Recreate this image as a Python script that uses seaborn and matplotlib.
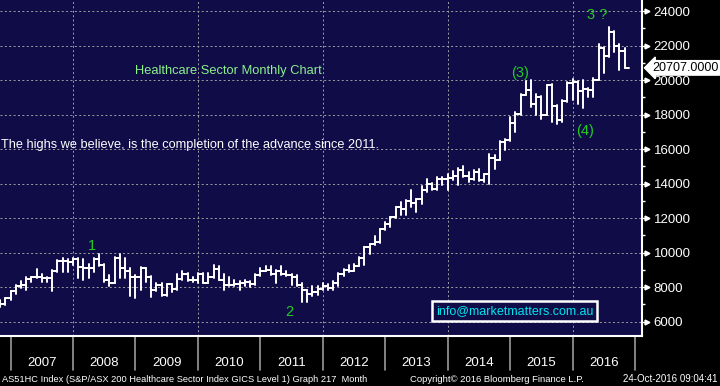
import matplotlib
matplotlib.use("Agg")
import matplotlib.pyplot as plt
import matplotlib.transforms as mtransforms
from matplotlib.ticker import MultipleLocator
import seaborn as sns
import pandas as pd

# monthly OHLC, Oct 2006 .. Oct 2016 (bars drawn at month end)
first_month_end = "2006-10-31"

opens = [7100, 7030, 7370, 7750, 8040, 8100, 8460, 8570, 8610, 8510,
         8510, 8930, 9500, 9500, 9470, 9620, 9140, 9090, 9090, 9620,
         9310, 8420, 8270, 9710, 9090, 8950, 8570, 8570, 9090, 8610,
         7850, 8130, 7520, 8170, 7900, 8460, 8760, 8420, 8420, 8760,
         8270, 8570, 9040, 8430, 8100, 8100, 8180, 8240, 8300, 8180,
         8680, 8950, 9000, 8750, 8950, 8750, 8720, 8580, 8100, 7820,
         7600, 7720, 7900, 8040, 7980, 8270, 8770, 9000, 8960, 9230,
         9670, 10310, 10480, 10630, 11350, 11650, 12040, 12620, 12520, 12980,
         12900, 13100, 13650, 14000, 13710, 14290, 14250, 14350, 14420, 14810,
         14420, 14290, 14670, 14190, 14580, 15500, 15380, 16400, 16540, 17500,
         18040, 19150, 19400, 18630, 19020, 18000, 19690, 18480, 17670, 18790,
         19830, 19880, 19370, 19500, 19400, 20020, 21870, 21380, 22810, 22000, 21710]

highs = [7276, 7370, 7750, 8130, 8360, 8610, 8610, 9050, 8740, 8610,
         8990, 9560, 9700, 9660, 9700, 9700, 9660, 9370, 9700, 9940,
         9370, 8700, 9750, 9940, 9710, 9090, 8700, 9180, 9120, 8650,
         8230, 8230, 8200, 8200, 8740, 8930, 8800, 8610, 8800, 8800,
         8800, 9290, 9230, 8750, 8580, 8430, 8330, 8430, 8330, 8770,
         9100, 9230, 9200, 9000, 9230, 8950, 8760, 8720, 8240, 7850,
         8050, 8080, 8230, 8190, 8330, 8810, 9040, 9290, 9330, 9730,
         10350, 10500, 10960, 11380, 11790, 12080, 12650, 12940, 13040, 13650,
         13120, 13850, 14290, 14050, 14380, 14380, 14580, 14710, 14920, 15000,
         14670, 14770, 14870, 14580, 15690, 15630, 16450, 16600, 17850, 18130,
         19190, 19920, 19980, 19210, 19100, 19720, 19750, 18540, 18830, 19880,
         20080, 19920, 19980, 19550, 20120, 22100, 21900, 23060, 22870, 22100, 21870]

lows = [6838, 6990, 7240, 7600, 7940, 7850, 8320, 8510, 8290, 8290,
        7790, 8900, 8900, 8900, 9280, 8550, 8420, 8550, 8860, 9240,
        8320, 8040, 8230, 8510, 8510, 7500, 7370, 7850, 8320, 7410,
        7750, 7470, 7470, 7710, 7850, 8420, 8360, 8320, 8230, 8230,
        8230, 8520, 8390, 7850, 8050, 8050, 7850, 8050, 7990, 8150,
        8620, 8910, 8720, 8240, 8720, 8620, 8100, 8050, 7150, 7150,
        7470, 7560, 7810, 7850, 7810, 8080, 8620, 8900, 8940, 9200,
        9290, 9920, 10450, 10540, 11300, 11500, 12000, 12170, 12170, 12650,
        12370, 12810, 13520, 13620, 13650, 13900, 13620, 14190, 13900, 14380,
        14100, 14190, 14150, 14100, 14000, 14870, 15350, 15920, 16480, 16980,
        17950, 19120, 18440, 17960, 17770, 17950, 17580, 17480, 17580, 18750,
        18830, 18630, 18400, 19020, 19020, 19980, 20420, 21330, 21620, 20560, 20700]

closes = [7030, 7370, 7750, 8040, 8100, 8460, 8570, 8610, 8510, 8510,
          8930, 9500, 9500, 9470, 9620, 9140, 9090, 9090, 9620, 9310,
          8420, 8270, 9710, 9090, 8950, 8570, 8570, 9090, 8610, 7850,
          8130, 7520, 8170, 7900, 8460, 8760, 8420, 8420, 8760, 8270,
          8570, 9040, 8430, 8100, 8100, 8180, 8240, 8300, 8180, 8680,
          8950, 9000, 8750, 8950, 8750, 8720, 8580, 8100, 7820, 7600,
          7720, 7900, 8040, 7980, 8270, 8770, 9000, 8960, 9230, 9670,
          10310, 10480, 10630, 11350, 11650, 12040, 12620, 12520, 12980, 12900,
          13100, 13650, 14000, 13710, 14290, 14250, 14350, 14420, 14810, 14420,
          14290, 14670, 14190, 14580, 15500, 15380, 16400, 16540, 17500, 18040,
          19150, 19400, 18630, 19020, 18000, 19690, 18480, 17670, 18790, 19830,
          19880, 19370, 19500, 19400, 20020, 21870, 21380, 22810, 22000, 21710, 20707]

years = list(range(2007, 2017))
grid_years = [2008, 2010, 2012, 2014, 2016]
price_ticks = list(range(6000, 24001, 2000))
last_price = 20707.0

NAVY = "#0f0c48"
GREEN = "#22cc22"
GRID = "#a0a0a0"

sns.set_theme(style="dark", rc={"axes.facecolor": NAVY, "figure.facecolor": "black"})
plt.rcParams["font.family"] = ["Liberation Sans", "DejaVu Sans"]

dates = pd.date_range(first_month_end, periods=len(closes), freq="ME")
df = pd.DataFrame({"date": dates, "open": opens, "high": highs,
                   "low": lows, "close": closes})
df["x"] = df["date"].dt.year + df["date"].dt.month / 12
df["bar"] = range(len(df))

# long-form segments: high-low stem, open tick (left), close tick (right)
w = 0.8 / 12
hl = pd.concat([df[["bar", "x", "low"]].rename(columns={"low": "v"}),
                df[["bar", "x", "high"]].rename(columns={"high": "v"})])
op = pd.concat([df[["bar", "x", "open"]].rename(columns={"open": "v"}),
                df[["bar", "x", "open"]].rename(columns={"open": "v"}).assign(x=df["x"] - w)])
cl = pd.concat([df[["bar", "x", "close"]].rename(columns={"close": "v"}),
                df[["bar", "x", "close"]].rename(columns={"close": "v"}).assign(x=df["x"] + w)])

fig = plt.figure(figsize=(7.2, 3.86), dpi=100, facecolor="black")
ax = fig.add_axes([0, 50 / 386, 642 / 720, 336 / 386])
ax.set_facecolor(NAVY)

# grid first so the bars sit on top
for gy in grid_years:
    ax.axvline(gy, color=GRID, lw=0.7, ls=(0, (2, 2.5)), zorder=0)
for p in price_ticks:
    ax.axhline(p, color=GRID, lw=0.7, ls=(0, (2, 2.5)), zorder=0)

for part in (hl, op, cl):
    sns.lineplot(data=part, x="x", y="v", units="bar", estimator=None, sort=False,
                 color="white", lw=1.4, ax=ax, legend=False)

ax.set_xlim(2006.83, 2017.112)
ax.set_ylim(5170, 24640)
ax.set_xlabel("")
ax.set_ylabel("")
ax.grid(False)

# right hand price axis
ax.yaxis.tick_right()
ax.set_yticks(price_ticks)
ax.yaxis.set_minor_locator(MultipleLocator(1000))
ax.tick_params(axis="y", which="major", length=4.5, width=1, color="white",
               labelcolor="white", labelsize=9.5, pad=4, right=True)
ax.tick_params(axis="y", which="minor", length=2.5, width=1, color="white", right=True)
ax.set_xticks([])
ytrans = mtransforms.blended_transform_factory(ax.transAxes, ax.transData)
ax.plot([1 + 5 / 642] * len(price_ticks), price_ticks, ls="none", marker=">",
        ms=3.5, color="white", transform=ytrans, clip_on=False)

for side in ("left", "top"):
    ax.spines[side].set_visible(False)
for side in ("right", "bottom"):
    ax.spines[side].set_visible(True)
    ax.spines[side].set_color("white")
    ax.spines[side].set_linewidth(1.5)

# year separators and labels under the plot
xtrans = mtransforms.blended_transform_factory(ax.transData, ax.transAxes)
for yr in years + [2017]:
    ax.plot([yr, yr], [0, -0.101], color="#9a9a9a", lw=1.2,
            transform=xtrans, clip_on=False)
for yr in years:
    ax.text(yr + 0.5, -0.08, str(yr), transform=xtrans, ha="center", va="center",
            color="white", fontsize=9.5)

# last price tag
ax.text(1 + 10 / 642, last_price, f"{last_price:.4f}", transform=ytrans,
        ha="left", va="center", color="black", fontsize=9,
        bbox=dict(boxstyle="larrow,pad=0.1", fc="white", ec="white"))

# annotations
ax.text(0.2103, 0.789, "Healthcare Sector Monthly Chart", transform=ax.transAxes,
        ha="left", va="center", color="#8cf08c", fontsize=9.3)
ax.text(0.002, 0.568, "The highs we believe, is the completion of the advance since 2011.",
        transform=ax.transAxes, ha="left", va="center", color="white", fontsize=9.2)
for label, xa, ya in [("1", 0.1433, 0.268), ("2", 0.450, 0.0714), ("(3)", 0.810, 0.783),
                      ("(4)", 0.911, 0.610), ("3 ?", 0.930, 0.955)]:
    ax.text(xa, ya, label, transform=ax.transAxes, ha="center", va="center",
            color=GREEN, fontsize=10.5)
ax.text(0.802, 0.074, "info@marketmatters.com.au", transform=ax.transAxes,
        ha="center", va="center", color="#00e5ee", fontsize=9,
        bbox=dict(boxstyle="square,pad=0.3", fc=NAVY, ec="white", lw=1.8))

# footer
fig.text(0.003, 0.018, "AS51HC Index (S&P/ASX 200 Healthcare Sector Index GICS Level 1) Graph 217  Month",
         color="white", fontsize=6.7, ha="left", va="center")
fig.text(0.569, 0.018, "Copyright\u00a9 2016 Bloomberg Finance L.P.",
         color="white", fontsize=6.8, ha="left", va="center")
fig.text(0.996, 0.018, "24-Oct-2016 09:04:41",
         color="white", fontsize=7, ha="right", va="center")

fig.savefig("out.png", dpi=100, facecolor="black")
